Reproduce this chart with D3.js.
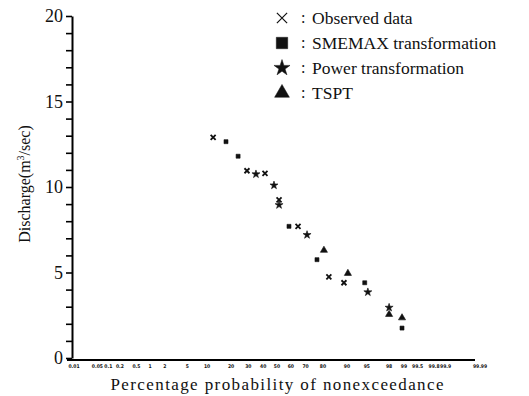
<!DOCTYPE html>
<html>
<head>
<meta charset="utf-8">
<script src="https://cdn.jsdelivr.net/npm/d3@7"></script>
</head>
<body style="margin:0">
<svg id="chart" width="529" height="396" font-family="Liberation Serif, DejaVu Serif, serif"></svg>
<script>
var probTicks = [0.01, 0.05, 0.1, 0.2, 0.5, 1, 2, 5, 10, 20, 30, 40, 50, 60, 70, 80, 90, 95, 98, 99, 99.5, 99.8, 99.9, 99.99];
var yTicks = [0, 5, 10, 15, 20];

var observed = [[12.1, 12.9], [29.1, 10.95], [41.3, 10.8], [51.5, 9.25], [65.0, 7.7], [82.9, 4.75], [89.0, 4.4]];
var smemax = [[17.5, 12.65], [23.8, 11.8], [58.7, 7.7], [76.8, 5.75], [94.6, 4.4], [98.9, 1.75]];
var power = [[35.0, 10.75], [47.8, 10.1], [51.5, 8.95], [70.9, 7.2], [95.2, 3.85], [98.0, 2.95]];
var tspt = [[80.5, 6.3], [90.3, 4.95], [98.0, 2.55], [98.9, 2.35]];

var legendItems = ["Observed data", "SMEMAX transformation", "Power transformation", "TSPT"];

function probit(p) {
    var a = [-39.69683028665376, 220.9460984245205, -275.9285104469687, 138.3577518672690, -30.66479806614716, 2.506628277459239];
    var b = [-54.47609879822406, 161.5858589498610, -155.6989798598866, 66.80131188771972, -13.28068155288572];
    var c = [-0.007784894002430293, -0.3223964580411365, -2.400758277161838, -2.549732539343734, 4.374664141464968, 2.938163982698783];
    var dd = [0.007784695709041462, 0.3224671290700398, 2.445134137142996, 3.754408661907416];
    var q, r;
    if (p < 0.02425) {
        q = Math.sqrt(-2 * Math.log(p));
        return (((((c[0]*q+c[1])*q+c[2])*q+c[3])*q+c[4])*q+c[5]) / ((((dd[0]*q+dd[1])*q+dd[2])*q+dd[3])*q+1);
    } else if (p > 1 - 0.02425) {
        q = Math.sqrt(-2 * Math.log(1 - p));
        return -(((((c[0]*q+c[1])*q+c[2])*q+c[3])*q+c[4])*q+c[5]) / ((((dd[0]*q+dd[1])*q+dd[2])*q+dd[3])*q+1);
    }
    q = p - 0.5;
    r = q * q;
    return (((((a[0]*r+a[1])*r+a[2])*r+a[3])*r+a[4])*r+a[5])*q / (((((b[0]*r+b[1])*r+b[2])*r+b[3])*r+b[4])*r+1);
}

var svg = d3.select("#chart");

var z = d3.scaleLinear()
    .domain([probit(0.0001), probit(0.9999)])
    .range([74, 480]);
function px(pct) { return z(probit(pct / 100)); }

var y = d3.scaleLinear()
    .domain([0, 20])
    .range([358, 16]);

// y axis via d3.axisLeft
svg.append("g")
    .attr("transform", "translate(72,0)")
    .call(d3.axisLeft(y)
        .tickValues(d3.range(0, 21, 1))
        .tickSize(6)
        .tickSizeOuter(0)
        .tickFormat(function (d) { return yTicks.indexOf(d) >= 0 ? d : ""; }))
    .call(function (g) {
        g.select(".domain").attr("stroke-width", 2);
        g.selectAll(".tick line").attr("stroke-width", 1.6);
        g.selectAll(".tick text")
            .attr("x", -9)
            .attr("font-size", 18)
            .attr("font-family", "Liberation Serif, serif")
            .attr("fill", "#111");
    });

// x axis via d3.axisBottom, ticks hidden
svg.append("g")
    .attr("transform", "translate(0,360)")
    .call(d3.axisBottom(z)
        .tickValues([])
        .tickSizeOuter(0))
    .call(function (g) {
        g.select(".domain").attr("stroke-width", 2).attr("d", "M67,0H475");
    });

// tiny x tick labels
svg.append("g").selectAll("text")
    .data(probTicks)
    .enter().append("text")
    .attr("x", function (d) { return px(d); })
    .attr("y", 368)
    .attr("text-anchor", "middle")
    .attr("font-size", 5)
    .attr("font-weight", "bold")
    .attr("font-family", "DejaVu Sans Condensed, DejaVu Sans, sans-serif")
    .attr("fill", "#111")
    .text(function (d) { return d; });

// axis titles
svg.append("text")
    .attr("x", 277).attr("y", 390)
    .attr("text-anchor", "middle")
    .attr("textLength", 333)
    .attr("lengthAdjust", "spacing")
    .attr("font-size", 17)
    .attr("fill", "#111")
    .text("Percentage probability of nonexceedance");

var yl = svg.append("text")
    .attr("transform", "translate(30,184) rotate(-90)")
    .attr("text-anchor", "middle")
    .attr("font-size", 16)
    .attr("fill", "#111");
yl.append("tspan").text("Discharge(m");
yl.append("tspan").attr("dy", -6).attr("font-size", 10).text("3");
yl.append("tspan").attr("dy", 6).text("/sec)");

// markers
var symbols = [d3.symbolTimes, d3.symbolSquare, d3.symbolStar, d3.symbolTriangle];
var sizes = [18, 16, 20, 22];
var series = [observed, smemax, power, tspt];

series.forEach(function (data, i) {
    svg.append("g").selectAll("path")
        .data(data)
        .enter().append("path")
        .attr("transform", function (d) { return "translate(" + px(d[0]) + "," + y(d[1]) + ")"; })
        .attr("d", d3.symbol().type(symbols[i]).size(sizes[i]))
        .attr("fill", i === 0 ? "none" : "#111")
        .attr("stroke", "#111")
        .attr("stroke-width", i === 0 ? 1.8 : 0.6);
});

// legend
var legendSizes = [70, 130, 80, 95];
var lg = svg.append("g").selectAll("g")
    .data(legendItems)
    .enter().append("g")
    .attr("transform", function (d, i) { return "translate(282," + (18 + i * 25) + ")"; });

lg.append("path")
    .attr("d", function (d, i) { return d3.symbol().type(symbols[i]).size(legendSizes[i])(); })
    .attr("fill", function (d, i) { return i === 0 ? "none" : "#111"; })
    .attr("stroke", "#111")
    .attr("stroke-width", function (d, i) { return i === 0 ? 1.2 : 0.5; });

lg.append("text")
    .attr("x", 19).attr("y", 5)
    .attr("font-size", 16)
    .attr("fill", "#111")
    .text(":");

lg.append("text")
    .attr("x", 30).attr("y", 6)
    .attr("font-size", 17.5)
    .attr("fill", "#111")
    .text(function (d) { return d; });
</script>
</body>
</html>
